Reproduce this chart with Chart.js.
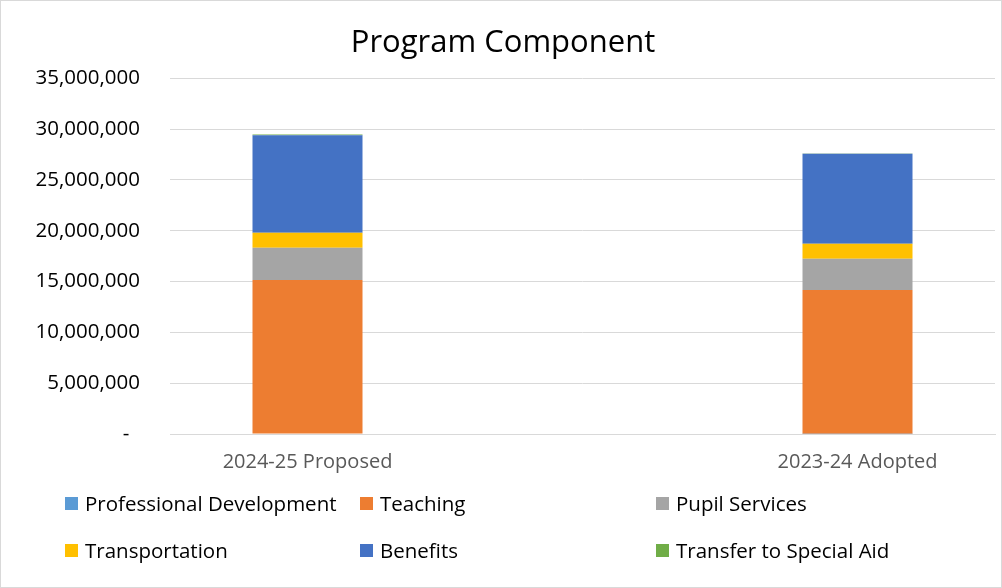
<!DOCTYPE html>
<html>
<head>
<meta charset="utf-8">
<script src="https://cdn.jsdelivr.net/npm/chart.js@4"></script>
<style>
  html, body { margin: 0; padding: 0; background: #fff; }
  #wrap { position: relative; width: 1002px; height: 588px; box-sizing: border-box; border: 1px solid #d9d9d9; }
  #legend { position: absolute; left: 0; top: 0; font-family: "Open Sans", Lato, sans-serif; font-size: 20.5px; color: #000; }
  .item { position: absolute; display: flex; align-items: center; white-space: nowrap; }
  .box { width: 13px; height: 13px; margin-right: 7px; }
</style>
</head>
<body>
<div id="wrap">
  <canvas id="myChart" width="1000" height="586"></canvas>
  <div id="legend"></div>
</div>
<script>
// Data
const categories = ['2024-25 Proposed', '', '2023-24 Adopted'];
const seriesNames = ['Professional Development', 'Teaching', 'Pupil Services', 'Transportation', 'Benefits', 'Transfer to Special Aid'];
const professionalDevelopment = [40000, null, 30000];
const teaching = [15120000, null, 14140000];
const pupilServices = [3150000, null, 3060000];
const transportation = [1480000, null, 1480000];
const benefits = [9600000, null, 8870000];
const transferToSpecialAid = [70000, null, 20000];
const yTicks = [0, 5000000, 10000000, 15000000, 20000000, 25000000, 30000000, 35000000];

const colors = ['#5B9BD5', '#ED7D31', '#A5A5A5', '#FFC000', '#4472C4', '#70AD47'];
const allSeries = [professionalDevelopment, teaching, pupilServices, transportation, benefits, transferToSpecialAid];

const font = '"Open Sans", Lato, sans-serif';

const ctx = document.getElementById('myChart').getContext('2d');
const myChart = new Chart(ctx, {
  type: 'bar',
  data: {
    labels: categories,
    datasets: allSeries.map((d, i) => ({
      label: seriesNames[i],
      data: d,
      backgroundColor: colors[i],
      borderWidth: 0,
      barPercentage: 0.4,
      categoryPercentage: 1
    }))
  },
  options: {
    responsive: false,
    animation: false,
    layout: { padding: { left: 10, right: 6, top: 0, bottom: 105 } },
    plugins: {
      legend: { display: false },
      tooltip: { enabled: false },
      title: {
        display: true,
        text: 'Program Component',
        color: '#000',
        font: { family: font, size: 31, weight: 'normal' },
        padding: { top: 24, bottom: 16 }
      }
    },
    scales: {
      x: {
        stacked: true,
        grid: { display: false },
        border: { color: '#d9d9d9', width: 1 },
        ticks: { color: '#595959', font: { family: font, size: 20 }, padding: 8, maxRotation: 0 }
      },
      y: {
        stacked: true,
        min: 0,
        max: 35000000,
        afterBuildTicks: (scale) => { scale.ticks = yTicks.map(v => ({ value: v })); },
        afterFit: (scale) => { scale.width = 159; },
        grid: { color: '#d9d9d9', drawTicks: false },
        border: { display: false },
        ticks: {
          color: '#000',
          padding: 30,
          font: { family: font, size: 20.5 },
          callback: (v) => v === 0 ? '-  ' : v.toLocaleString('en-US')
        }
      }
    }
  }
});

// Legend laid out like the original (3 columns, 2 rows)
const legendCols = [64, 359, 655];
const legendRows = [503, 550];
const legend = document.getElementById('legend');
seriesNames.forEach((name, i) => {
  const item = document.createElement('div');
  item.className = 'item';
  item.style.left = legendCols[i % 3] + 'px';
  item.style.top = (legendRows[Math.floor(i / 3)] - 15) + 'px';
  item.innerHTML = '<span class="box" style="background:' + colors[i] + '"></span>' + name;
  legend.appendChild(item);
});
</script>
</body>
</html>
